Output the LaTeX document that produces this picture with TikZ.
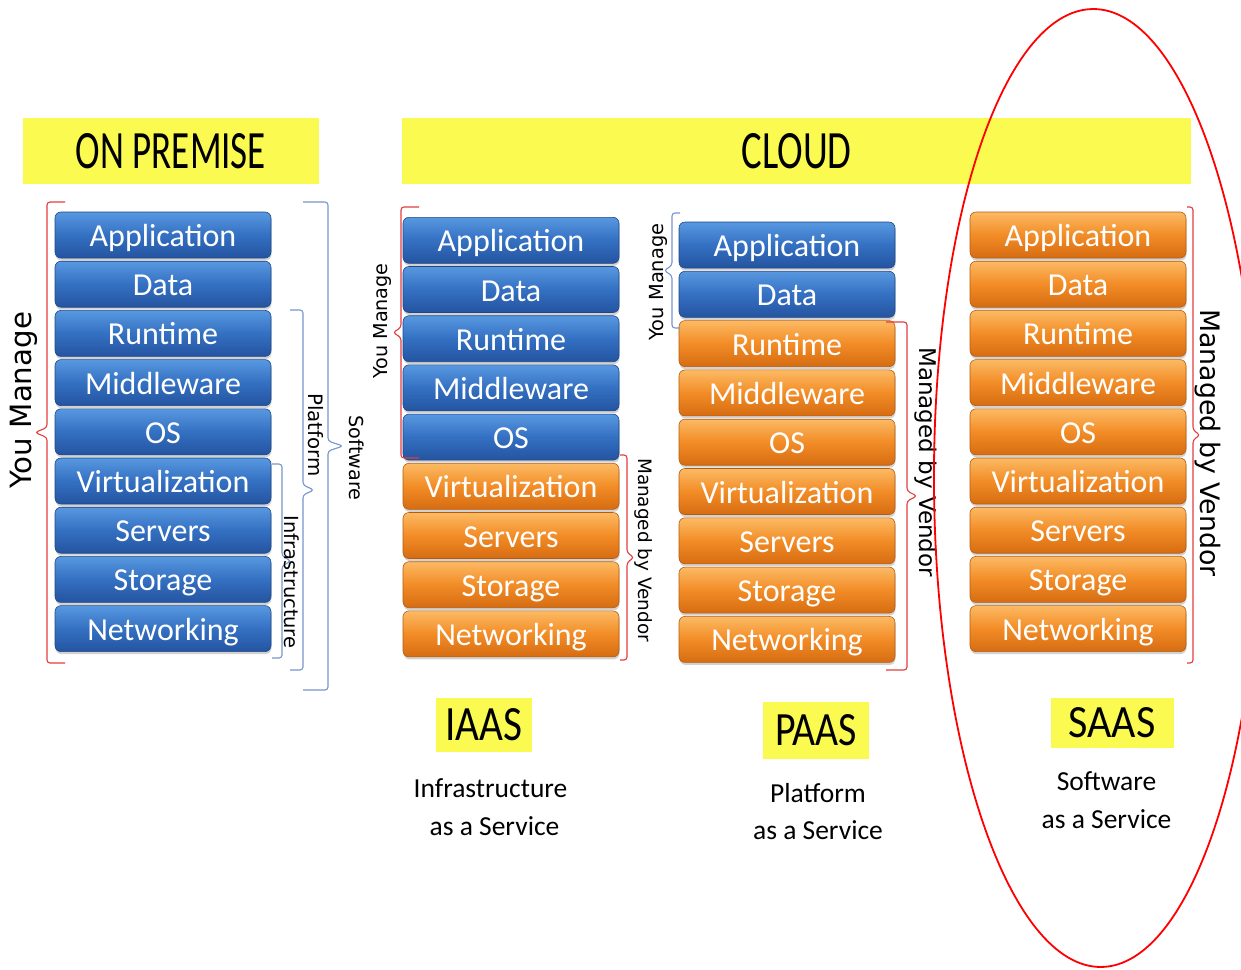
\documentclass[tikz,border=0pt]{standalone}
\usepackage{fontspec}
\usepackage{graphicx}
\setmainfont{Carlito}
\newfontfamily\dejavu{DejaVu Sans}
\usetikzlibrary{shadows}
\definecolor{bluetop}{RGB}{88,152,224}
\definecolor{bluemid}{RGB}{52,112,194}
\definecolor{bluebot}{RGB}{36,84,160}
\definecolor{orgtop}{RGB}{252,186,100}
\definecolor{orgmid}{RGB}{242,140,38}
\definecolor{orgbot}{RGB}{214,108,18}
\definecolor{hiyellow}{RGB}{250,250,80}
\definecolor{brred}{RGB}{228,60,60}
\definecolor{brblue}{RGB}{120,150,205}
\tikzset{
  layer/.style={rounded corners=6pt, minimum width=216pt, minimum height=46pt,
    inner sep=0pt, text=white, font=\fontsize{32}{32}\selectfont,
    text height=23pt, text depth=0pt,
    drop shadow={shadow xshift=0.5pt, shadow yshift=-2.5pt, opacity=0.35}},
  bluelayer/.style={layer, top color=bluetop, bottom color=bluebot, middle color=bluemid,
    draw=bluebot!85!black, line width=0.6pt},
  orglayer/.style={layer, top color=orgtop, bottom color=orgbot, middle color=orgmid,
    draw=orgbot!85!black, line width=0.6pt},
  hdr/.style={fill=hiyellow, inner sep=0pt},
  vlabel/.style={font=\dejavu\fontsize{#1}{#1}\selectfont, inner sep=0pt},
  caption/.style={font=\fontsize{27.5}{27.5}\selectfont, anchor=base, inner sep=0pt},
  bracered/.style={draw=brred, line width=1.1pt, rounded corners=3pt},
  braceblue/.style={draw=brblue, line width=1.1pt, rounded corners=3pt}
}
\newcommand\mybrace[6]{%
  \draw[#6] (#1,#4) -- (#2,#4) -- (#2,{(#4+#5)/2-5}) -- (#3,{(#4+#5)/2})
    -- (#2,{(#4+#5)/2+5}) -- (#2,#5) -- (#1,#5);}
\begin{document}
\begin{tikzpicture}[x=1pt,y=-1pt]
\useasboundingbox (0,0) rectangle (1241,969);
\clip (0,0) rectangle (1241,969);
\fill[white] (0,0) rectangle (1241,969);

% headers
\node[hdr, minimum width=296pt, minimum height=66pt] (hop) at (171,151)
  {\resizebox{190pt}{35pt}{ON PREMISE}};
\node[hdr, minimum width=789pt, minimum height=66pt] (hcl) at (796.5,151)
  {\resizebox{110pt}{35pt}{CLOUD}};

% on premise stack
\foreach \t [count=\i] in {Application,Data,Runtime,Middleware,OS,Virtualization,Servers,Storage,Networking}{
  \node[bluelayer] (op\i) at (163,{235+(\i-1)*49.2}) {\t};
}
% IaaS stack
\foreach \t [count=\i] in {Application,Data,Runtime,Middleware,OS,Virtualization,Servers,Storage,Networking}{
  \ifnum\i<6
    \node[bluelayer] (ia\i) at (511,{240.3+(\i-1)*49.2}) {\t};
  \else
    \node[orglayer] (ia\i) at (511,{240.3+(\i-1)*49.2}) {\t};
  \fi
}
% PaaS stack
\foreach \t [count=\i] in {Application,Data,Runtime,Middleware,OS,Virtualization,Servers,Storage,Networking}{
  \ifnum\i<3
    \node[bluelayer] (pa\i) at (787,{245+(\i-1)*49.3}) {\t};
  \else
    \node[orglayer] (pa\i) at (787,{245+(\i-1)*49.3}) {\t};
  \fi
}
% SaaS stack
\foreach \t [count=\i] in {Application,Data,Runtime,Middleware,OS,Virtualization,Servers,Storage,Networking}{
  \node[orglayer] (sa\i) at (1078,{235+(\i-1)*49.2}) {\t};
}

% braces
\mybrace{65}{47}{35}{202}{663}{bracered}
\mybrace{290}{303}{314}{310}{670}{braceblue}
\mybrace{272}{282}{291}{464}{658}{braceblue}
\mybrace{303}{328}{343}{202}{690}{braceblue}
\mybrace{419}{401}{393}{207}{458}{bracered}
\mybrace{620}{627}{634}{455}{660}{bracered}
\mybrace{680}{672}{664}{213}{328}{braceblue}
\mybrace{886}{907}{917}{322}{670}{bracered}
\mybrace{1187}{1193}{1200}{207}{663}{bracered}

% vertical labels
\node[vlabel=29.3, rotate=90] (lym1) at (24,400) {You Manage};
\node[vlabel=19.8, rotate=-90] (lpl) at (316,435) {Platform};
\node[vlabel=19.4, rotate=-90] (lin) at (292,582) {Infrastructure};
\node[vlabel=19.2, rotate=-90] (lsw) at (357,458) {Software};
\node[vlabel=19.2, rotate=90] (lym2) at (382,321) {You Manage};
\node[vlabel=18.4, rotate=-90] (lmv2) at (644,550) {Managed by Vendor};
\node[vlabel=19.4, rotate=90] (lym3) at (658,282) {You Manage};
\node[vlabel=23, rotate=-90] (lmv3) at (926,462) {Managed by Vendor};
\node[vlabel=26.8, rotate=-90] (lmv4) at (1208,443) {Managed by Vendor};

% service labels
\node[hdr, minimum width=96pt, minimum height=54pt] (iaas) at (484,725)
  {\resizebox{77pt}{32pt}{IAAS}};
\node[hdr, minimum width=106pt, minimum height=57pt] (paas) at (816,730)
  {\resizebox{82pt}{31pt}{PAAS}};
\node[hdr, minimum width=123pt, minimum height=50pt] (saas) at (1112,723)
  {\resizebox{87pt}{30pt}{SAAS}};

\node[caption] (ci1) at (490.5,797) {Infrastructure};
\node[caption] (ci2) at (494.5,835) {as a Service};
\node[caption] (cp1) at (818,802) {Platform};
\node[caption] (cp2) at (818,839) {as a Service};
\node[caption] (cs1) at (1106.5,790) {Software};
\node[caption] (cs2) at (1106.5,828) {as a Service};

% highlight ellipse
\draw[red, line width=1.8pt, rotate around={0.5:(1097,488)}]
  (1097,488) ellipse [x radius=163pt, y radius=479pt];
\end{tikzpicture}
\end{document}
